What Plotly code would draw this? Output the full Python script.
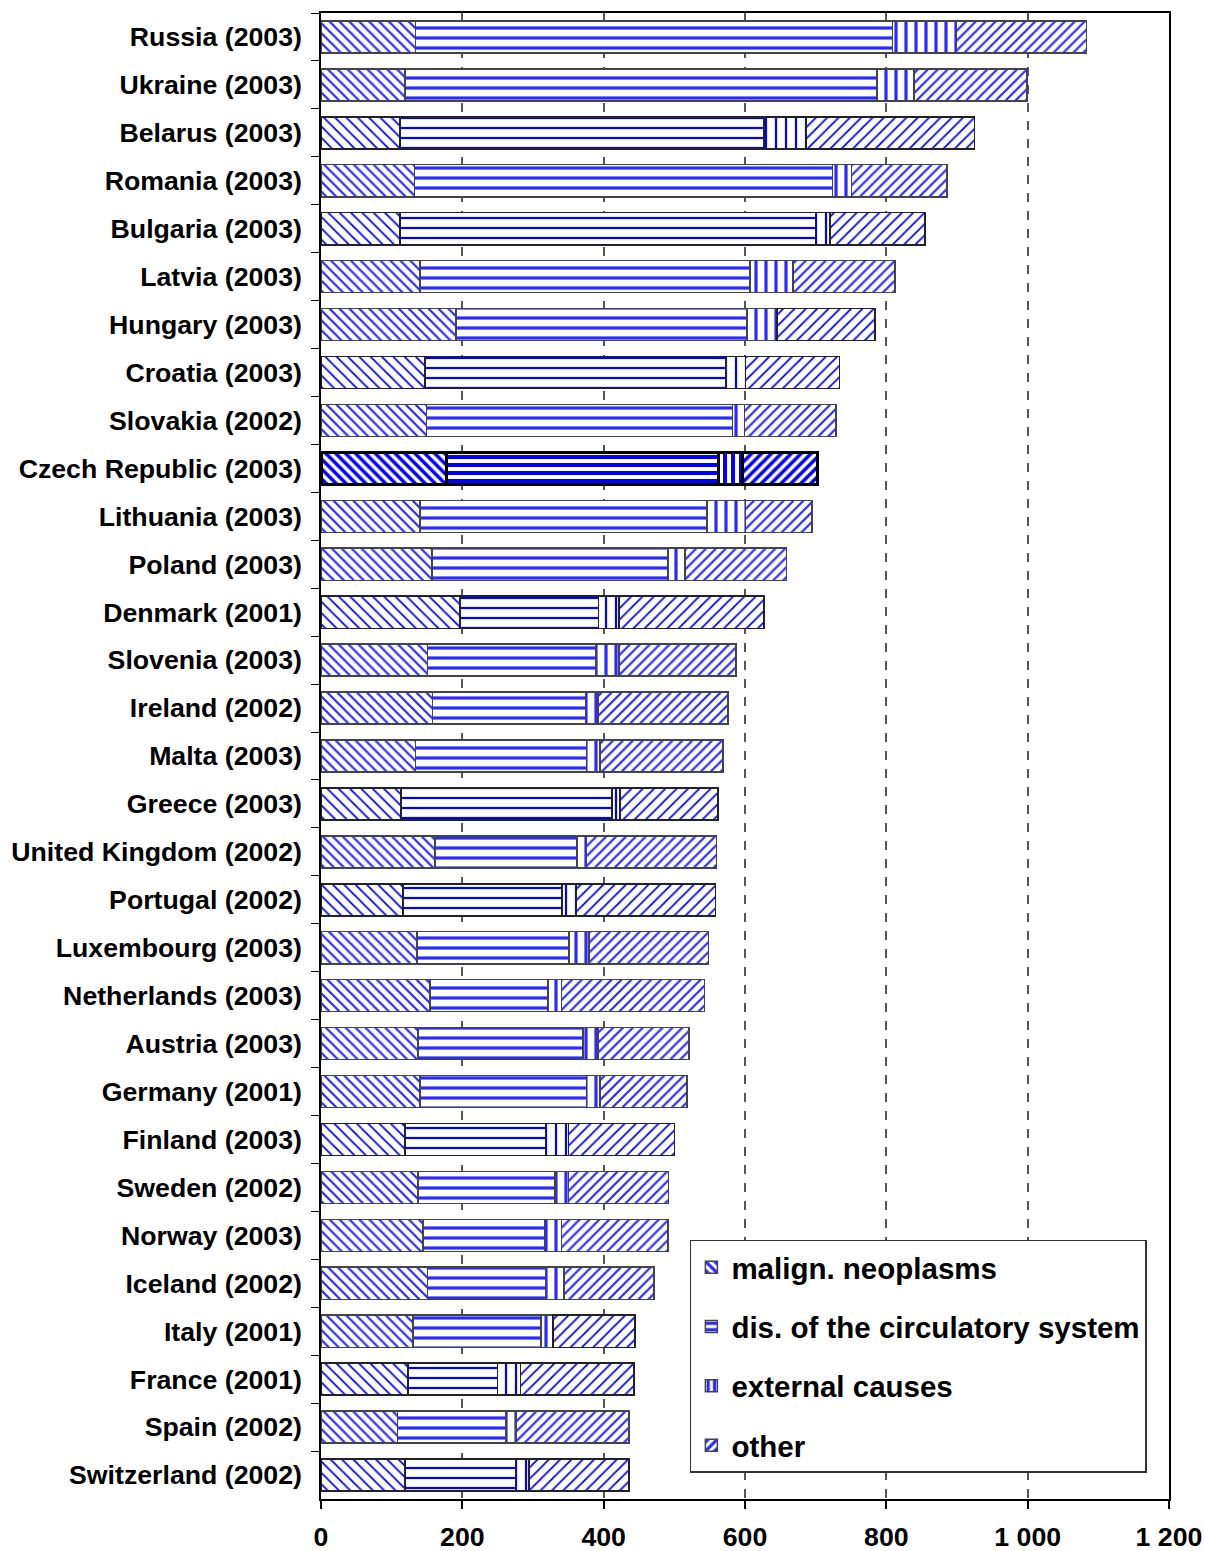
import plotly.graph_objects as go

countries = [
    "Russia (2003)", "Ukraine (2003)", "Belarus (2003)", "Romania (2003)",
    "Bulgaria (2003)", "Latvia (2003)", "Hungary (2003)", "Croatia (2003)",
    "Slovakia (2002)", "Czech Republic (2003)", "Lithuania (2003)", "Poland (2003)",
    "Denmark (2001)", "Slovenia (2003)", "Ireland (2002)", "Malta (2003)",
    "Greece (2003)", "United Kingdom (2002)", "Portugal (2002)", "Luxembourg (2003)",
    "Netherlands (2003)", "Austria (2003)", "Germany (2001)", "Finland (2003)",
    "Sweden (2002)", "Norway (2003)", "Iceland (2002)", "Italy (2001)",
    "France (2001)", "Spain (2002)", "Switzerland (2002)",
]

neoplasms = [134, 119, 112, 132, 112, 140, 191, 147, 149, 177, 140, 157, 197, 151, 158, 134,
             113, 161, 116, 136, 154, 137, 140, 119, 137, 144, 151, 130, 123, 108, 119]
circulatory = [675, 668, 515, 592, 588, 467, 412, 426, 433, 386, 406, 334, 196, 238, 216, 242,
               299, 201, 225, 215, 167, 234, 236, 199, 194, 172, 167, 181, 127, 154, 156]
external = [90, 52, 59, 27, 20, 61, 42, 28, 17, 34, 55, 24, 29, 33, 18, 19,
            11, 14, 20, 28, 19, 21, 19, 32, 19, 24, 26, 17, 32, 14, 19]
other = [184, 160, 239, 135, 135, 144, 139, 133, 130, 106, 94, 144, 205, 165, 184, 174,
         139, 184, 197, 169, 203, 129, 123, 150, 142, 151, 127, 116, 161, 160, 142]

# bars drawn with the crisper, dotted hatch in the original
crisp = {"Belarus (2003)", "Bulgaria (2003)", "Croatia (2003)", "Denmark (2001)",
         "Greece (2003)", "Portugal (2002)", "Finland (2003)", "France (2001)",
         "Switzerland (2002)"}
crisp_other = crisp | {"Hungary (2003)", "Italy (2001)"}
highlight = "Czech Republic (2003)"

series = [
    ("malign. neoplasms", neoplasms, "\\", crisp),
    ("dis. of the circulatory system", circulatory, "-", crisp),
    ("external causes", external, "|", crisp),
    ("other", other, "/", crisp_other),
]

fig = go.Figure()
for name, vals, shape, crisp_set in series:
    diag = shape in ("/", "\\")
    sizes, solid, fg, lw, lc = [], [], [], [], []
    for c in countries:
        if c == highlight:
            sizes.append(7 if diag else 8)
            solid.append(0.5)
            fg.append("#0000ff")
            lw.append(3)
            lc.append("#000000")
        elif c in crisp_set:
            sizes.append(8 if diag else 10)
            solid.append(0.22)
            fg.append("#0000ff")
            lw.append(1.5)
            lc.append("#222222")
        else:
            sizes.append(7 if diag else 10)
            solid.append(0.32)
            fg.append("#2a2aff")
            lw.append(1.5)
            lc.append("#444444")
    fig.add_trace(go.Bar(
        y=countries, x=vals, name=name, orientation="h",
        legendgroup=name,
        marker=dict(
            color="white",
            line=dict(width=lw, color=lc),
            pattern=dict(shape=shape, size=sizes, solidity=solid,
                         fgcolor=fg, bgcolor="white", fillmode="replace"),
        ),
        hovertemplate="%{y}<br>" + name + ": %{x}<extra></extra>",
    ))

fig.update_layout(
    width=1205, height=1551,
    barmode="stack", bargap=0.33,
    plot_bgcolor="white", paper_bgcolor="white",
    margin=dict(l=321, r=36, t=13, b=52),
    separators=". ",
    font=dict(family="Liberation Sans, Arial, sans-serif", size=26.7, color="black", weight="bold"),
    legend=dict(
        x=0.435, y=0.0175, xanchor="left", yanchor="bottom",
        bgcolor="white", bordercolor="#333333", borderwidth=1.5,
        font=dict(size=29.5, weight="bold"),
        traceorder="grouped", tracegroupgap=18,
    ),
)
fig.update_xaxes(
    range=[0, 1200], tickvals=[0, 200, 400, 600, 800, 1000, 1200], tickformat=",d",
    showgrid=True, gridcolor="#555555", griddash="dash", gridwidth=1.5,
    showline=True, linecolor="black", linewidth=1.5, mirror=True,
    ticks="outside", ticklen=8, tickcolor="black", tickwidth=1.5,
    ticklabelstandoff=5, automargin=False,
    zeroline=False, fixedrange=True,
)
fig.update_yaxes(
    autorange="reversed",
    showline=True, linecolor="black", linewidth=1.5, mirror=True,
    ticks="outside", ticklen=8, tickcolor="black", tickson="boundaries",
    ticklabelstandoff=12, automargin=False,
    showgrid=False, fixedrange=True,
)

fig.write_html("out.html", config={"displayModeBar": False},
               post_script="document.body.style.margin='0';")
